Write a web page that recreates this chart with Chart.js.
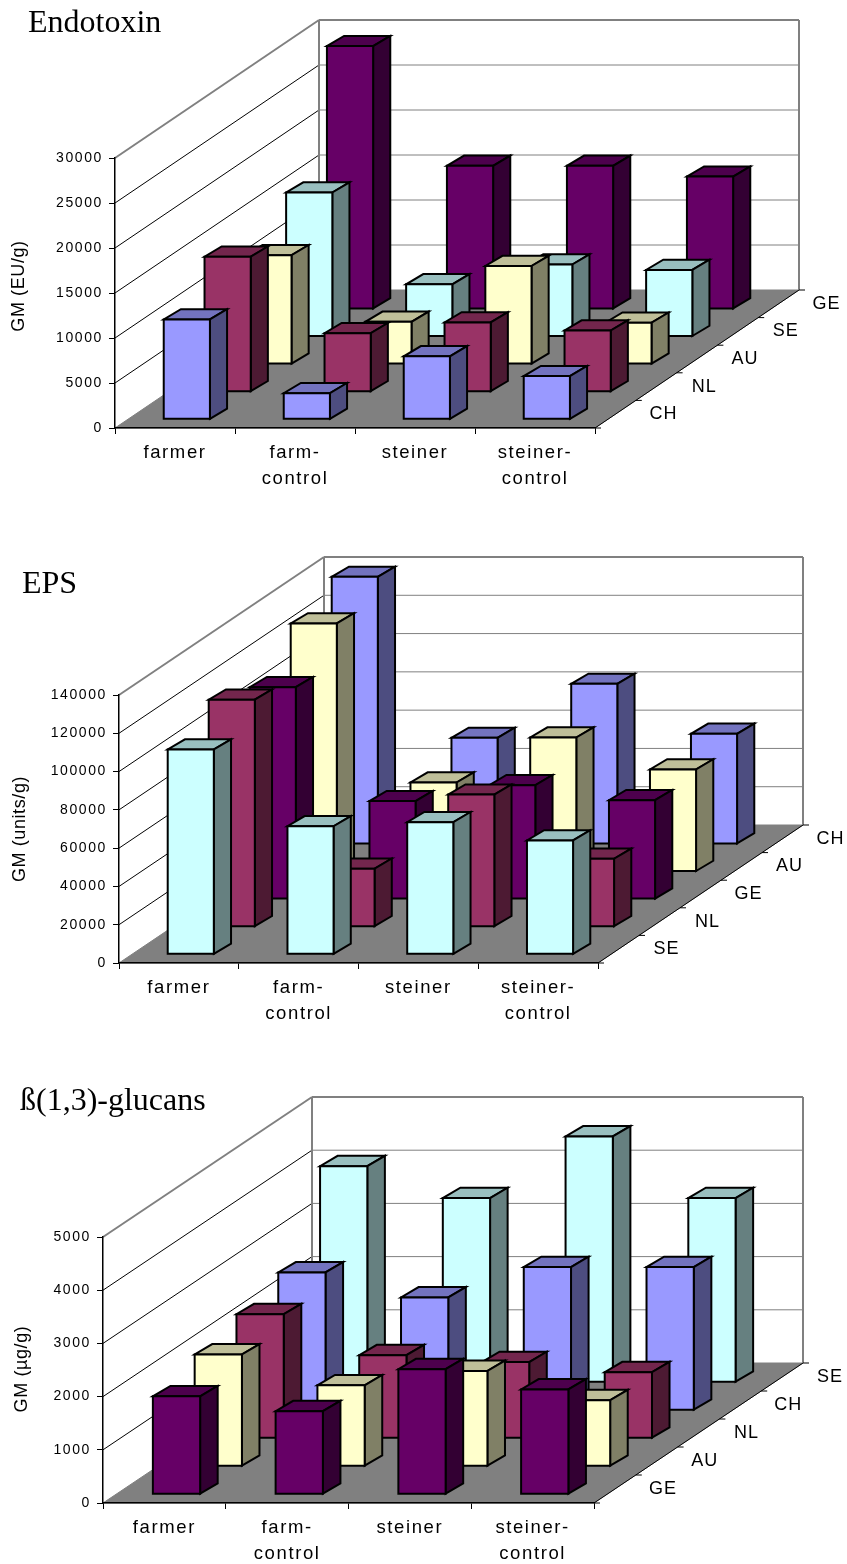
<!DOCTYPE html>
<html>
<head>
<meta charset="utf-8">
<title>Farm and Steiner dust measurements</title>
<script src="https://cdn.jsdelivr.net/npm/chart.js@4"></script>
<style>
    body { margin: 0; background: #fff; }
    canvas { position: absolute; left: 0; }
</style>
</head>
<body>
<canvas id="endotoxin" width="847" height="500" style="top:0"></canvas>
<canvas id="eps" width="847" height="500" style="top:540px"></canvas>
<canvas id="glucans" width="847" height="500" style="top:1064px"></canvas>
<script>
const groups = ['farmer', ['farm-', 'control'], 'steiner', ['steiner-', 'control']];

// Endotoxin, EU/g
const endoRows = ['CH', 'NL', 'AU', 'SE', 'GE'];
const endoCH = [11100, 2900, 7000, 4800];
const endoNL = [15000, 6500, 7700, 6800];
const endoAU = [12100, 4700, 10900, 4600];
const endoSE = [16000, 5800, 8000, 7400];
const endoGE = [29200, 15900, 15900, 14700];

// EPS, units/g
const epsRows = ['SE', 'NL', 'GE', 'AU', 'CH'];
const epsSE = [107000, 66900, 69000, 59500];
const epsNL = [118600, 30300, 69000, 35500];
const epsGE = [110700, 51200, 59500, 51700];
const epsAU = [129600, 46500, 70000, 53300];
const epsCH = [139500, 55400, 83600, 57500];

// beta-glucans, ug/g
const glucRows = ['GE', 'AU', 'NL', 'CH', 'SE'];
const glucGE = [1840, 1560, 2350, 1970];
const glucAU = [2100, 1520, 1790, 1240];
const glucNL = [2330, 1560, 1430, 1240];
const glucCH = [2590, 2120, 2690, 2690];
const glucSE = [4060, 3460, 4620, 3460];

const countryColors = {
    CH: [153, 153, 255],
    NL: [153, 51, 102],
    AU: [255, 255, 204],
    SE: [204, 255, 255],
    GE: [102, 0, 102],
};

// share of a category taken by a bar, and share of a depth row taken by its box
const BAR_SHARE = 0.385;
const BOX_DEPTH_X = 0.42;
const BOX_DEPTH_Y = 0.37;

const shade = (rgb, k) => `rgb(${rgb.map(c => Math.round(c * k)).join(',')})`;

function polygon(ctx, pts, fill) {
    ctx.beginPath();
    pts.forEach(([x, y], i) => (i ? ctx.lineTo(x, y) : ctx.moveTo(x, y)));
    ctx.closePath();
    if (fill) {
        ctx.fillStyle = fill;
        ctx.fill();
    }
    ctx.stroke();
}

// Oblique projection: depth scale position -> shift away from the front edge
function depthShift(chart, cfg, value) {
    const depth = chart.scales.depth;
    const f = (depth.getPixelForValue(value) - depth.left) / depth.width;
    return { x: cfg.depthX * f, y: cfg.depthY * f };
}

function drawRoom(chart, cfg) {
    const { ctx } = chart;
    const { x: xScale, y: yScale } = chart.scales;
    const l = xScale.left, r = xScale.right;
    const y0 = yScale.getPixelForValue(0);
    const dx = cfg.depthX, dy = cfg.depthY;

    ctx.save();
    ctx.letterSpacing = '0px';

    // floor
    ctx.lineWidth = 1;
    ctx.strokeStyle = '#808080';
    polygon(ctx, [[l, y0], [r, y0], [r + dx, y0 - dy], [l + dx, y0 - dy]], '#808080');
    ctx.strokeStyle = '#000';
    ctx.beginPath();
    ctx.moveTo(r, y0);
    ctx.lineTo(r + dx, y0 - dy);
    ctx.stroke();

    // side wall and back wall lines for every value tick
    yScale.ticks.forEach(tick => {
        const y = yScale.getPixelForValue(tick.value);
        if (tick.value > 0) {
            const isTop = tick.value === yScale.max;
            ctx.strokeStyle = isTop ? '#808080' : '#000';
            ctx.lineWidth = isTop ? 2 : 1;
            ctx.beginPath();
            ctx.moveTo(l, y);
            ctx.lineTo(l + dx, y - dy);
            ctx.stroke();
            ctx.strokeStyle = '#808080';
            ctx.lineWidth = isTop ? 2 : 1;
            ctx.beginPath();
            ctx.moveTo(l + dx, y - dy);
            ctx.lineTo(r + dx, y - dy);
            ctx.stroke();
        }
    });

    // back wall verticals
    const yTop = yScale.getPixelForValue(yScale.max);
    ctx.strokeStyle = '#808080';
    ctx.lineWidth = 2;
    [l + dx, r + dx].forEach(x => {
        ctx.beginPath();
        ctx.moveTo(x, y0 - dy);
        ctx.lineTo(x, yTop - dy);
        ctx.stroke();
    });

    // depth axis ticks and country labels
    ctx.strokeStyle = '#000';
    ctx.lineWidth = 1;
    const rowLabels = chart.scales.depth.getLabels();
    for (let i = 0; i <= rowLabels.length; i++) {
        const s = depthShift(chart, cfg, i - 0.5);
        ctx.beginPath();
        ctx.moveTo(r + s.x, y0 - s.y);
        ctx.lineTo(r + s.x + 6, y0 - s.y);
        ctx.stroke();
    }

    ctx.font = '18px "Liberation Sans"';
    ctx.letterSpacing = '1px';
    ctx.fillStyle = '#000';
    ctx.textAlign = 'center';
    ctx.textBaseline = 'middle';
    rowLabels.forEach((label, i) => {
        const s = depthShift(chart, cfg, i);
        ctx.fillText(label, r + s.x + 48, y0 - s.y);
    });

    // chart heading and rotated axis title
    ctx.letterSpacing = '0px';
    ctx.textAlign = 'left';
    ctx.textBaseline = 'alphabetic';
    ctx.font = '32px "Liberation Serif"';
    ctx.fillText(cfg.title, cfg.titleX, cfg.titleY);

    ctx.translate(cfg.unitX, cfg.unitY);
    ctx.rotate(-Math.PI / 2);
    ctx.font = '18px "Liberation Sans"';
    ctx.letterSpacing = '0.6px';
    ctx.textAlign = 'center';
    ctx.textBaseline = 'middle';
    ctx.fillText(cfg.unit, 0, 0);
    ctx.restore();
}

function drawBox(ctx, bar, rgb, shift, depthX, depthY) {
    const x1 = bar.x - bar.width / 2 + shift.x - depthX / 2;
    const x2 = x1 + bar.width;
    const yb = bar.base - shift.y + depthY / 2;
    const yt = bar.y - shift.y + depthY / 2;

    polygon(ctx, [[x1, yt], [x2, yt], [x2 + depthX, yt - depthY], [x1 + depthX, yt - depthY]], shade(rgb, 0.75));
    polygon(ctx, [[x2, yb], [x2 + depthX, yb - depthY], [x2 + depthX, yt - depthY], [x2, yt]], shade(rgb, 0.5));
    polygon(ctx, [[x1, yb], [x2, yb], [x2, yt], [x1, yt]], shade(rgb, 1));
}

function makeChart(id, rows, series, cfg) {
    const plugin = {
        id: 'room3d',
        beforeDraw(chart) {
            chart.ctx.letterSpacing = '1.6px';
            drawRoom(chart, cfg);
        },
        // the bar controller still lays the bars out, only the painting is replaced
        beforeDatasetDraw(chart, args) {
            const { ctx } = chart;
            const n = rows.length;
            const shift = depthShift(chart, cfg, args.index);
            ctx.save();
            ctx.letterSpacing = '0px';
            ctx.strokeStyle = '#000';
            ctx.lineWidth = 2;
            ctx.lineJoin = 'miter';
            args.meta.data.forEach(bar => {
                drawBox(ctx, bar, countryColors[rows[args.index]], shift,
                    cfg.depthX / n * BOX_DEPTH_X, cfg.depthY / n * BOX_DEPTH_Y);
            });
            ctx.restore();
            return false;
        },
    };

    return new Chart(document.getElementById(id), {
        type: 'bar',
        data: {
            labels: groups,
            datasets: rows.map((name, i) => ({
                label: name,
                data: series[i],
                xAxisID: 'x',
                yAxisID: 'y',
                grouped: false,
                categoryPercentage: 1,
                barPercentage: BAR_SHARE,
            })),
        },
        options: {
            responsive: false,
            animation: false,
            layout: {
                padding: { left: 0, right: 847 - cfg.right, top: cfg.top, bottom: 0 },
            },
            plugins: { legend: { display: false }, tooltip: { enabled: false } },
            scales: {
                x: {
                    type: 'category',
                    offset: true,
                    afterFit: s => { s.height = 500 - cfg.bottom; },
                    border: { color: '#000', width: 1.5 },
                    grid: { drawOnChartArea: false, offset: true, color: '#000', tickLength: 6 },
                    ticks: {
                        autoSkip: false,
                        maxRotation: 0,
                        padding: 6,
                        color: '#000',
                        font: { family: '"Liberation Sans"', size: 18.5, lineHeight: 1.42 },
                    },
                },
                y: {
                    min: 0,
                    max: cfg.max,
                    afterFit: s => { s.width = cfg.left; },
                    border: { color: '#000', width: 1.5 },
                    grid: { drawOnChartArea: false, color: '#000', tickLength: 6 },
                    ticks: {
                        stepSize: cfg.step,
                        padding: 6,
                        color: '#000',
                        font: { family: '"Liberation Sans"', size: 14 },
                        callback: value => String(value),
                    },
                },
                depth: {
                    type: 'category',
                    axis: 'x',
                    labels: rows,
                    offset: true,
                    display: false,
                },
            },
        },
        plugins: [plugin],
    });
}

makeChart('endotoxin', endoRows, [endoCH, endoNL, endoAU, endoSE, endoGE], {
    left: 115, right: 595, top: 158, bottom: 428,
    depthX: 204, depthY: 138, max: 30000, step: 5000,
    title: 'Endotoxin', titleX: 28, titleY: 32,
    unit: 'GM (EU/g)', unitX: 19, unitY: 286,
});

makeChart('eps', epsRows, [epsSE, epsNL, epsGE, epsAU, epsCH], {
    left: 119, right: 598, top: 155, bottom: 423,
    depthX: 205, depthY: 138, max: 140000, step: 20000,
    title: 'EPS', titleX: 22, titleY: 53,
    unit: 'GM (units/g)', unitX: 20, unitY: 289,
});

makeChart('glucans', glucRows, [glucGE, glucAU, glucNL, glucCH, glucSE], {
    left: 103, right: 594, top: 173, bottom: 439,
    depthX: 209, depthY: 140, max: 5000, step: 1000,
    title: 'ß(1,3)-glucans', titleX: 20, titleY: 46,
    unit: 'GM (µg/g)', unitX: 22, unitY: 305,
});
</script>
</body>
</html>
